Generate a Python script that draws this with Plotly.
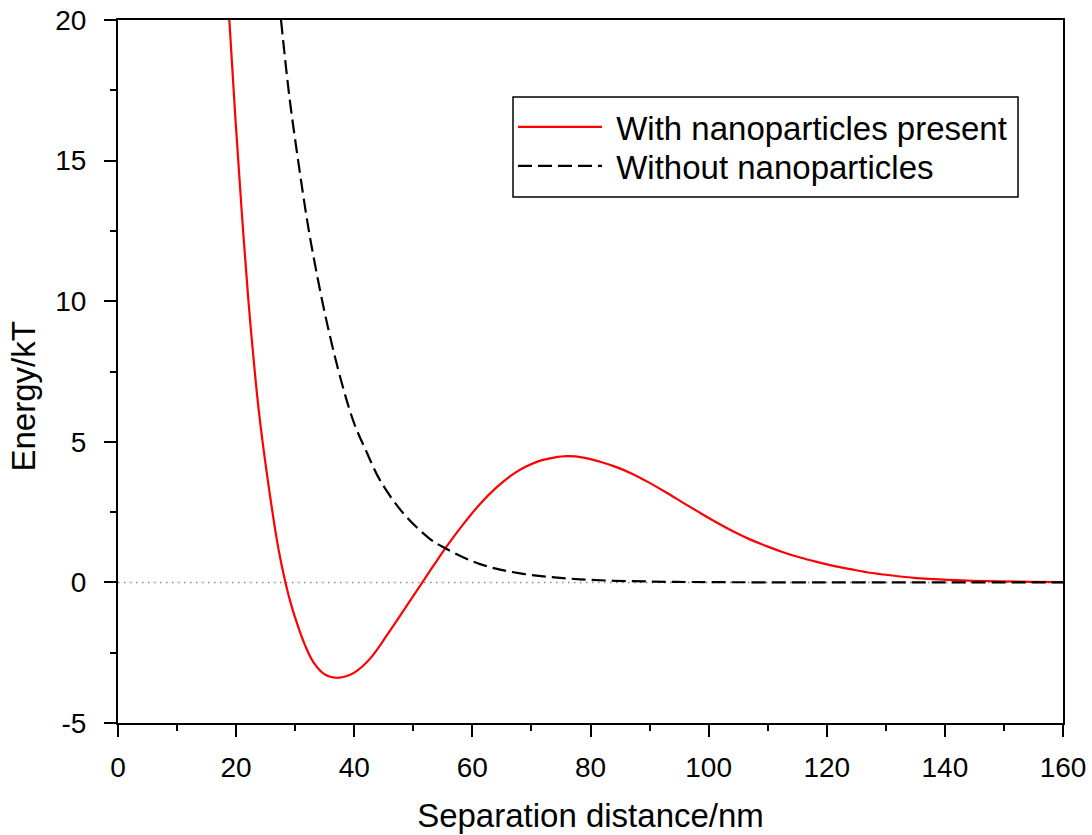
import plotly.graph_objects as go

# Interaction energy curves (energy in kT vs separation distance in nm)
sep_with = [18.85, 19.9, 20.95, 22.05, 22.8, 23.9, 25.5, 27.2, 28.35, 29.3, 30.3,
            31.7, 33.1, 35.0, 37.0, 39.0, 40.0, 41.5, 43.0, 44.5, 46.0, 48.0,
            50.0, 51.4, 53.5, 55.65, 58.5, 61.3, 64.0, 66.9, 69.0, 71.5, 73.8,
            76.0, 78.8, 81.6, 84.4, 87.2, 90.0, 92.9, 95.7, 98.5, 101.3, 104.2,
            107.0, 109.8, 112.6, 115.5, 118.3, 121.1, 124.0, 126.8, 129.6, 132.4,
            135.2, 138.0, 143.7, 149.3, 154.6, 160.0]
energy_with = [20.0, 16.43, 13.18, 10.1, 8.3, 5.99, 3.43, 1.15, 0.0, -0.78, -1.45,
               -2.25, -2.84, -3.27, -3.39, -3.31, -3.21, -2.965, -2.63, -2.20, -1.73, -1.11,
               -0.48, -0.04, 0.62, 1.28, 2.08, 2.79, 3.36, 3.85, 4.11, 4.33, 4.44,
               4.49, 4.44, 4.29, 4.10, 3.85, 3.54, 3.19, 2.83, 2.48, 2.14, 1.81,
               1.53, 1.29, 1.075, 0.885, 0.73, 0.59, 0.47, 0.36, 0.28, 0.21,
               0.155, 0.115, 0.065, 0.035, 0.02, 0.01]

sep_without = [27.6, 29.0, 30.5, 32.0, 33.0, 35.3, 37.9, 40.0, 42.0, 44.4, 48.3,
               52.8, 55.1, 61.3, 68.1, 78.2, 90.6, 100.0, 120.0, 140.0, 160.0]
energy_without = [20.0, 17.3, 15.0, 12.9, 11.7, 9.3, 7.08, 5.65, 4.68, 3.62, 2.46,
                  1.55, 1.25, 0.65, 0.32, 0.11, 0.03, 0.01, 0.0, 0.0, 0.0]

x_ticks = [0, 20, 40, 60, 80, 100, 120, 140, 160]
y_ticks = [-5, 0, 5, 10, 15, 20]

FONT = "Liberation Sans, Arial, sans-serif"
NB = "\u00a0"

fig = go.Figure()
fig.add_trace(go.Scatter(
    x=sep_with, y=energy_with, mode="lines", name=NB + "With nanoparticles present",
    line=dict(color="#ff0000", width=2.2, shape="spline", smoothing=1.0),
    legend="legend",
))
fig.add_trace(go.Scatter(
    x=sep_without, y=energy_without, mode="lines", name=NB + "Without nanoparticles",
    line=dict(color="#000000", width=2.2, dash="14px,6px", shape="spline", smoothing=1.0),
    legend="legend2",
))

# dotted zero reference line
fig.add_shape(type="line", xref="x", yref="y", x0=0, x1=160, y0=0, y1=0,
              line=dict(color="#8a8a8a", width=1.5, dash="1.5px,4.5px"), layer="below")

# legend frame
fig.add_shape(type="rect", xref="paper", yref="paper",
              x0=0.418, x1=0.9524, y0=0.7482, y1=0.8905,
              line=dict(color="black", width=1.5), fillcolor="white", layer="below")

axis_common = dict(
    showline=True, linecolor="black", linewidth=2, mirror=True,
    ticks="outside", ticklen=12, tickwidth=2, tickcolor="black",
    showgrid=False, zeroline=False,
    tickfont=dict(family=FONT, size=28, color="black"),
)

fig.update_xaxes(
    range=[0, 160], tickvals=x_ticks, ticktext=[str(v) for v in x_ticks],
    minor=dict(dtick=10, tick0=0, ticks="outside", ticklen=6, tickwidth=2, tickcolor="black"),
    title=dict(text="Separation distance/nm", font=dict(family=FONT, size=33, color="black"),
               standoff=22),
    ticklabelstandoff=6,
    **axis_common,
)
fig.update_yaxes(
    range=[-5, 20], tickvals=y_ticks, ticktext=[str(v) for v in y_ticks],
    minor=dict(dtick=2.5, tick0=0, ticks="outside", ticklen=6, tickwidth=2, tickcolor="black"),
    ticklabelstandoff=12,
    **axis_common,
)

# y-axis title
fig.add_annotation(
    text="Energy/kT", xref="paper", yref="paper", x=-0.1, y=0.4637,
    xanchor="center", yanchor="middle", textangle=-90, showarrow=False,
    font=dict(family=FONT, size=33, color="black"),
)

legend_common = dict(
    x=0.418, xanchor="left", yanchor="middle",
    bgcolor="rgba(0,0,0,0)", borderwidth=0,
    font=dict(family=FONT, size=33, color="black"),
    itemwidth=84,
)

fig.update_layout(
    width=1092, height=835,
    margin=dict(l=118, r=29, t=20, b=112, autoexpand=False),
    paper_bgcolor="white", plot_bgcolor="white",
    font=dict(family=FONT, color="black"),
    showlegend=True,
    legend=dict(y=0.8478, **legend_common),
    legend2=dict(y=0.7923, **legend_common),
)

fig.write_html("out.html")
